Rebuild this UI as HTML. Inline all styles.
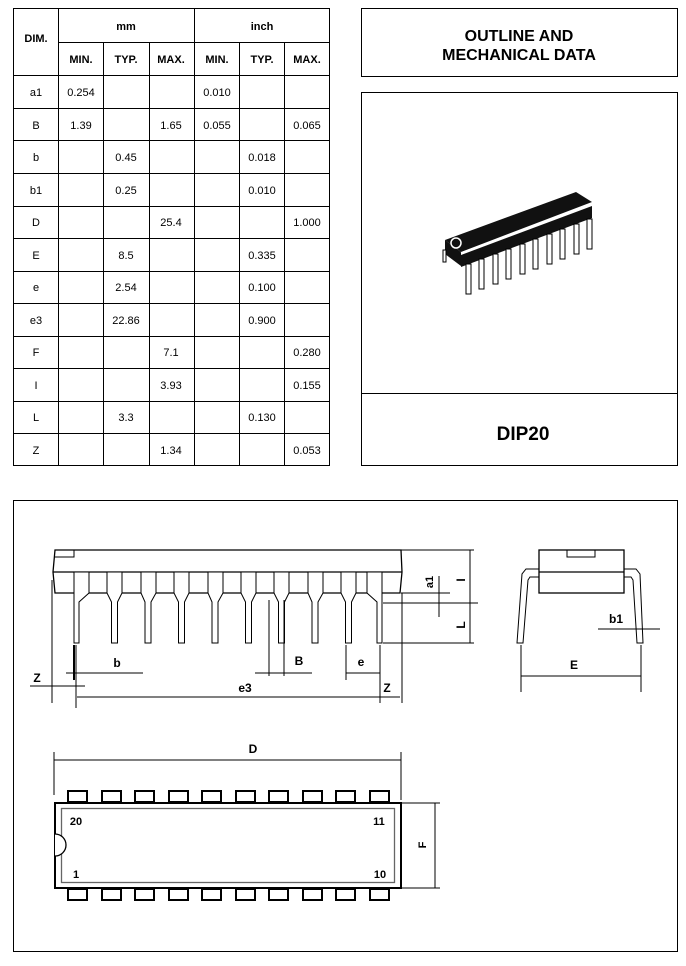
<!DOCTYPE html>
<html><head><meta charset="utf-8"><style>
body{margin:0;background:#fff;width:686px;height:961px;overflow:hidden;font-family:"Liberation Sans",Arial,sans-serif}
</style></head><body>
<svg width="686" height="961" xmlns="http://www.w3.org/2000/svg" font-family="Liberation Sans, Arial, sans-serif">
<g stroke="#000" stroke-width="1" fill="none">
<!-- table -->
<rect x="13.5" y="8.5" width="316" height="457"/>
<line x1="58.5" y1="8" x2="58.5" y2="466"/>
<line x1="194.5" y1="8" x2="194.5" y2="466"/>
<line x1="103.5" y1="42" x2="103.5" y2="466"/>
<line x1="149.5" y1="42" x2="149.5" y2="466"/>
<line x1="239.5" y1="42" x2="239.5" y2="466"/>
<line x1="284.5" y1="42" x2="284.5" y2="466"/>
<line x1="58" y1="42.5" x2="330" y2="42.5"/>
<line x1="13" y1="75.5" x2="330" y2="75.5"/>
<line x1="13" y1="108.5" x2="330" y2="108.5"/>
<line x1="13" y1="140.5" x2="330" y2="140.5"/>
<line x1="13" y1="173.5" x2="330" y2="173.5"/>
<line x1="13" y1="206.5" x2="330" y2="206.5"/>
<line x1="13" y1="238.5" x2="330" y2="238.5"/>
<line x1="13" y1="271.5" x2="330" y2="271.5"/>
<line x1="13" y1="303.5" x2="330" y2="303.5"/>
<line x1="13" y1="336.5" x2="330" y2="336.5"/>
<line x1="13" y1="368.5" x2="330" y2="368.5"/>
<line x1="13" y1="401.5" x2="330" y2="401.5"/>
<line x1="13" y1="433.5" x2="330" y2="433.5"/>
<!-- right boxes -->
<rect x="361.5" y="8.5" width="316" height="68"/>
<rect x="361.5" y="92.5" width="316" height="373"/>
<line x1="361" y1="393.5" x2="678" y2="393.5"/>
<rect x="13.5" y="500.5" width="664" height="451"/>
</g>
<g font-size="11" text-anchor="middle" fill="#000">
<text x="36" y="42" font-weight="bold">DIM.</text>
<text x="126" y="30" font-weight="bold">mm</text>
<text x="262" y="30" font-weight="bold">inch</text>
<text x="81" y="63" font-weight="bold">MIN.</text><text x="126" y="63" font-weight="bold">TYP.</text><text x="171" y="63" font-weight="bold">MAX.</text>
<text x="217" y="63" font-weight="bold">MIN.</text><text x="262" y="63" font-weight="bold">TYP.</text><text x="307" y="63" font-weight="bold">MAX.</text>
<text x="36" y="96">a1</text><text x="81" y="96">0.254</text><text x="217" y="96">0.010</text>
<text x="36" y="129">B</text><text x="81" y="129">1.39</text><text x="171" y="129">1.65</text><text x="217" y="129">0.055</text><text x="307" y="129">0.065</text>
<text x="36" y="161">b</text><text x="126" y="161">0.45</text><text x="262" y="161">0.018</text>
<text x="36" y="194">b1</text><text x="126" y="194">0.25</text><text x="262" y="194">0.010</text>
<text x="36" y="226">D</text><text x="171" y="226">25.4</text><text x="307" y="226">1.000</text>
<text x="36" y="259">E</text><text x="126" y="259">8.5</text><text x="262" y="259">0.335</text>
<text x="36" y="291">e</text><text x="126" y="291">2.54</text><text x="262" y="291">0.100</text>
<text x="36" y="324">e3</text><text x="126" y="324">22.86</text><text x="262" y="324">0.900</text>
<text x="36" y="356">F</text><text x="171" y="356">7.1</text><text x="307" y="356">0.280</text>
<text x="36" y="389">I</text><text x="171" y="389">3.93</text><text x="307" y="389">0.155</text>
<text x="36" y="421">L</text><text x="126" y="421">3.3</text><text x="262" y="421">0.130</text>
<text x="36" y="454">Z</text><text x="171" y="454">1.34</text><text x="307" y="454">0.053</text>
<text x="519" y="41" font-size="16" font-weight="bold">OUTLINE AND</text>
<text x="519" y="60" font-size="16" font-weight="bold">MECHANICAL DATA</text>
<text x="523" y="440" font-size="19" font-weight="bold">DIP20</text>
</g>
<!-- 3D chip -->
<g>
<polygon points="445,240 576,192 592,202 461,252" fill="#111"/>
<polygon points="445,240 461,252 461,266 445,254" fill="#111"/>
<polygon points="461,255 592,206 592,218 461,267" fill="#111"/>
<line x1="461" y1="253" x2="592" y2="204" stroke="#fff" stroke-width="1.5"/>
<circle cx="456" cy="243" r="5" fill="none" stroke="#fff" stroke-width="1.5"/>
<g stroke="#000" stroke-width="1" fill="#fff">
<rect x="443" y="250" width="3" height="12"/>
<rect x="466" y="264" width="5" height="30"/><rect x="479" y="259" width="5" height="30"/>
<rect x="493" y="254" width="5" height="30"/><rect x="506" y="249" width="5" height="30"/>
<rect x="520" y="244" width="5" height="30"/><rect x="533" y="239" width="5" height="30"/>
<rect x="547" y="234" width="5" height="30"/><rect x="560" y="229" width="5" height="30"/>
<rect x="574" y="224" width="5" height="30"/><rect x="587" y="219" width="5" height="30"/>
</g>
</g>
<!-- side view -->
<g stroke="#000" stroke-width="1.3" fill="none">
<polygon points="55,550 401,550 402,572 400,593 55,593 53,572"/>
<line x1="53" y1="572" x2="402" y2="572"/>
<polyline points="55,557 74,557 74,550" stroke-width="1"/>
</g>
<g stroke="#000" stroke-width="1" fill="#fff" id="leads">
<polygon points="74,572 89,572 89,593 79,602 79,643 74,643"/>
<polygon points="107,572 122,572 122,593 117.5,602 117.5,643 111.5,643 111.5,602 107,593"/>
<polygon points="141,572 156,572 156,593 151,602 151,643 145,643 145,602 141,593"/>
<polygon points="174,572 189,572 189,593 184.5,602 184.5,643 178.5,643 178.5,602 174,593"/>
<polygon points="208,572 223,572 223,593 218,602 218,643 212,643 212,602 208,593"/>
<polygon points="241,572 256,572 256,593 251.5,602 251.5,643 245.5,643 245.5,602 241,593"/>
<polygon points="274,572 289,572 289,593 284.5,602 284.5,643 278.5,643 278.5,602 274,593"/>
<polygon points="308,572 323,572 323,593 318,602 318,643 312,643 312,602 308,593"/>
<polygon points="341,572 356,572 356,593 351.5,602 351.5,643 345.5,643 345.5,602 341,593"/>
<polygon points="367,572 382,572 382,643 377,643 377,602 367,593"/>
</g>
<g stroke="#000" stroke-width="1" fill="none">
<line x1="401" y1="550" x2="474" y2="550"/>
<line x1="470" y1="550" x2="470" y2="643"/>
<line x1="383" y1="603" x2="478" y2="603"/>
<line x1="401" y1="593" x2="450" y2="593"/>
<line x1="439" y1="576" x2="439" y2="617"/>
<line x1="383" y1="643" x2="474" y2="643"/>
<line x1="52" y1="580" x2="52" y2="703"/>
<line x1="76" y1="645" x2="76" y2="708"/>
<line x1="74" y1="645" x2="74" y2="680" stroke-width="2"/>
<line x1="30" y1="686" x2="85" y2="686"/>
<line x1="66" y1="673" x2="143" y2="673"/>
<line x1="269" y1="600" x2="269" y2="676"/>
<line x1="284" y1="600" x2="284" y2="676"/>
<line x1="255" y1="673" x2="312" y2="673"/>
<line x1="346" y1="645" x2="346" y2="680"/>
<line x1="380" y1="645" x2="380" y2="703"/>
<line x1="346" y1="673" x2="380" y2="673"/>
<line x1="77" y1="697" x2="400" y2="697"/>
<line x1="402" y1="593" x2="402" y2="703"/>
</g>
<g fill="#000" font-weight="bold" font-size="12" text-anchor="middle">
<text x="37" y="682">Z</text><text x="117" y="667">b</text><text x="299" y="665">B</text>
<text x="361" y="666">e</text><text x="245" y="692">e3</text><text x="387" y="692">Z</text>
<text transform="translate(433,582) rotate(-90)" font-size="11">a1</text>
<text transform="translate(465,580) rotate(-90)">I</text>
<text transform="translate(465,625) rotate(-90)">L</text>
</g>
<!-- end view -->
<g stroke="#000" stroke-width="1.3" fill="none">
<rect x="539" y="550" width="85" height="43"/>
<line x1="539" y1="572" x2="624" y2="572"/>
<polyline points="567,550 567,557 595,557 595,550" stroke-width="1"/>
<polyline points="539,569 526,569 522,574 517,643 523,643 528,580 530,577 539,577" stroke-width="1"/>
<polyline points="624,569 636,569 640,574 643,643 637,643 633,580 631,577 624,577" stroke-width="1"/>
<line x1="521" y1="645" x2="521" y2="692" stroke-width="1"/>
<line x1="641" y1="645" x2="641" y2="692" stroke-width="1"/>
<line x1="521" y1="676" x2="641" y2="676" stroke-width="1"/>
<line x1="598" y1="629" x2="660" y2="629" stroke-width="1"/>
</g>
<g fill="#000" font-weight="bold" font-size="12" text-anchor="middle">
<text x="616" y="623">b1</text><text x="574" y="669">E</text>
</g>
<!-- top view -->
<g stroke="#000" fill="none">
<line x1="54" y1="752" x2="54" y2="795" stroke-width="1"/>
<line x1="401" y1="752" x2="401" y2="800" stroke-width="1"/>
<line x1="54" y1="760" x2="401" y2="760" stroke-width="1"/>
<rect x="55" y="803" width="346" height="85" stroke-width="2"/>
<rect x="61.5" y="808.5" width="333" height="74" stroke="#666" stroke-width="1.3"/>
<path d="M55,834 A11,11 0 0 1 55,856" fill="#fff" stroke-width="1.3"/>
<line x1="401" y1="803" x2="440" y2="803" stroke-width="1"/>
<line x1="401" y1="888" x2="440" y2="888" stroke-width="1"/>
<line x1="435" y1="803" x2="435" y2="888" stroke-width="1"/>
</g>
<g stroke="#000" stroke-width="2" fill="none">
<rect x="68" y="791" width="19" height="11"/><rect x="102" y="791" width="19" height="11"/><rect x="135" y="791" width="19" height="11"/><rect x="169" y="791" width="19" height="11"/><rect x="202" y="791" width="19" height="11"/><rect x="236" y="791" width="19" height="11"/><rect x="269" y="791" width="19" height="11"/><rect x="303" y="791" width="19" height="11"/><rect x="336" y="791" width="19" height="11"/><rect x="370" y="791" width="19" height="11"/>
<rect x="68" y="889" width="19" height="11"/><rect x="102" y="889" width="19" height="11"/><rect x="135" y="889" width="19" height="11"/><rect x="169" y="889" width="19" height="11"/><rect x="202" y="889" width="19" height="11"/><rect x="236" y="889" width="19" height="11"/><rect x="269" y="889" width="19" height="11"/><rect x="303" y="889" width="19" height="11"/><rect x="336" y="889" width="19" height="11"/><rect x="370" y="889" width="19" height="11"/>
</g>
<g fill="#000" font-weight="bold" font-size="11" text-anchor="middle">
<text x="253" y="753" font-size="12">D</text>
<text x="76" y="825">20</text><text x="379" y="825">11</text>
<text x="76" y="878">1</text><text x="380" y="878">10</text>
<text transform="translate(426,845) rotate(-90)">F</text>
</g>
</svg>
</body></html>
